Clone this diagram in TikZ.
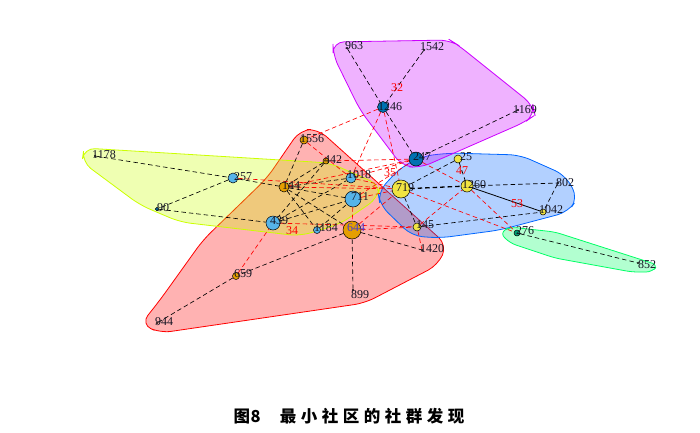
\documentclass[tikz,border=0pt]{standalone}
\usepackage{fontspec}
\setmainfont{Liberation Serif}
\newfontfamily\cjk{Noto Sans CJK SC}
\pgfdeclarelayer{hulls}
\pgfdeclarelayer{edges}
\pgfsetlayers{hulls,edges,main}
\definecolor{hred}{RGB}{255,0,0}
\definecolor{hyel}{RGB}{204,255,0}
\definecolor{hgrn}{RGB}{0,255,102}
\definecolor{hblu}{RGB}{0,102,255}
\definecolor{hpur}{RGB}{204,0,255}
\definecolor{vorange}{RGB}{230,159,0}
\definecolor{vsky}{RGB}{86,180,233}
\definecolor{vdblue}{RGB}{0,114,178}
\definecolor{vyel}{RGB}{240,228,66}
\definecolor{vgreen}{RGB}{0,158,115}
\definecolor{labc}{RGB}{20,20,35}
\definecolor{lab644}{RGB}{70,60,210}
\tikzset{
  hull/.style={fill=#1, fill opacity=0.3, draw=#1, draw opacity=1, line width=0.8pt, rounded corners=11pt},
  vtx/.style={circle, draw=black, line width=0.5pt, inner sep=0pt, minimum size=#1},
  dotv/.style={circle, fill=black, inner sep=0pt, minimum size=2.2pt},
  lab/.style={font=\fontsize{12}{12}\selectfont, text=labc, inner sep=0pt},
  elab/.style={font=\fontsize{12}{12}\selectfont, text=red, inner sep=0pt},
  be/.style={draw=black, dash pattern=on 4.5pt off 3pt, line width=0.65pt},
  re/.style={draw=red, dash pattern=on 4.5pt off 3pt, line width=0.65pt},
}
\begin{document}
\begin{tikzpicture}[x=1pt,y=-1pt]
\useasboundingbox (0,0) rectangle (700,432);

% vertices
\node[dotv] (n1178) at (95,156) {};
\node[vtx=10pt, fill=vsky] (n257) at (233,178) {};
\node[vtx=3.5pt, fill=vdblue] (n90) at (157,209) {};
\node[vtx=10pt, fill=vorange] (n144) at (284,187) {};
\node[vtx=14pt, fill=vsky] (n439) at (273,223) {};
\node[vtx=8pt, fill=vorange] (n1556) at (304,140) {};
\node[vtx=6pt, fill=vorange] (n442) at (326,161) {};
\node[vtx=10pt, fill=vsky] (n1018) at (351,178) {};
\node[vtx=16pt, fill=vsky] (n711) at (353,199) {};
\node[vtx=18pt, fill=vorange] (n644) at (352,230) {};
\node[vtx=7pt, fill=vsky] (n1184) at (317,230) {};
\node[vtx=7pt, fill=vorange] (n659) at (236,276) {};
\node[dotv] (n899) at (353,290) {};
\node[dotv] (n944) at (157,323) {};
\node[dotv] (n1420) at (422,250) {};
\node[vtx=18pt, fill=vyel] (n719) at (401,189) {};
\node[vtx=8pt, fill=vyel] (n145) at (417,227) {};
\node[vtx=14pt, fill=vdblue] (n247) at (416,159) {};
\node[vtx=11pt, fill=vdblue] (n1246) at (383,107) {};
\node[dotv] (n963) at (347,48) {};
\node[dotv] (n1542) at (424,50) {};
\node[dotv] (n1169) at (518,110) {};
\node[vtx=8pt, fill=vyel] (n25) at (458,159) {};
\node[vtx=12pt, fill=vyel] (n1260) at (467,186) {};
\node[dotv] (n802) at (558,183) {};
\node[vtx=6pt, fill=vyel] (n1042) at (543,212) {};
\node[vtx=6pt, fill=vgreen] (n276) at (517,233) {};
\node[dotv] (n852) at (638,263) {};

% hulls
\begin{pgfonlayer}{hulls}
\fill[white] (0,0) rectangle (700,432);
\draw[hull=hred] (300,130) -- (318,129) -- (447,245) -- (438,265) -- (365,303) -- (160,333) -- (141,324) -- (160,300) -- (203,240) -- (267,178) -- cycle;
\draw[hull=hyel] (84,148) -- (330,163) -- (380,185) -- (378,198) -- (340,224) -- (300,236) -- (180,222) -- (140,205) -- (82,162) -- cycle;
\draw[hull=hblu] (378,192) -- (400,168) -- (423,156) -- (450,153) -- (520,155) -- (565,175) -- (578,198) -- (568,212) -- (500,230) -- (440,238) -- (412,236) -- (380,205) -- cycle;
\draw[hull=hpur] (333,42) -- (450,40) -- (458,45) -- (533,105) -- (535,115) -- (525,122) -- (420,168) -- (402,166) -- (360,110) -- (333,55) -- cycle;
\draw[hull=hgrn, rounded corners=6pt] (500,233) -- (510,227) -- (555,232) -- (658,265) -- (652,272) -- (632,272) -- (555,258) -- (510,243) -- cycle;
\end{pgfonlayer}

% edges
\begin{pgfonlayer}{edges}
% black (within community)
\draw[be] (n1178) -- (n257);
\draw[be] (n257) -- (n90);
\draw[be] (n90) -- (n439);
\draw[be] (n257) -- (n144);
\draw[be] (n1556) -- (n144);
\draw[be] (n442) -- (n144);
\draw[be] (n442) -- (n439);
\draw[be] (n144) -- (n711);
\draw[be] (n144) -- (n644);
\draw[be] (n144) -- (n1184);
\draw[be] (n144) -- (n1018);
\draw[be] (n439) -- (n1018);
\draw[be] (n439) -- (n711);
\draw[be] (n1184) -- (n711);
\draw[be] (n644) -- (n659);
\draw[be] (n659) -- (n944);
\draw[be] (n644) -- (n899);
\draw[be] (n644) -- (n1420);
\draw[be] (n963) -- (n1246);
\draw[be] (n1246) -- (n247);
\draw[be] (n1542) -- (n1246);
\draw[be] (n1169) -- (n247);
\draw[be, line width=1.3pt] (n719) -- (n1260);
\draw[be] (n1260) -- (n802);
\draw[be] (n802) -- (n1042);
\draw[draw=black, line width=0.8pt] (n1260) -- (n1042);
\draw[be] (n719) -- (n145);
\draw[be] (n145) -- (n1042);
\draw[be] (n25) -- (n719);
\draw[be] (n25) -- (n1260);
\draw[be] (n276) -- (n852);
% red (between communities)
\draw[re] (n1246) -- (n1556);
\draw[re] (n1246) -- (n1018);
\draw[re] (n1246) -- (n719);
\draw[re] (n247) -- (n144);
\draw[re] (n257) -- (n719);
\draw[re] (n144) -- (n719);
\draw[re] (n1018) -- (n719);
\draw[re] (n711) -- (n719);
\draw[re] (n711) -- (n247);
\draw[re] (n1018) -- (n247);
\draw[re] (n442) -- (n247);
\draw[re] (n1556) -- (n1018);
\draw[re] (n644) -- (n145);
\draw[re] (n439) -- (n145);
\draw[re] (n711) -- (n644);
\draw[re] (n659) -- (n439);
\draw[re] (n644) -- (n719);
\draw[re] (n145) -- (n1420);
\draw[re] (n719) -- (n276);
\draw[re] (n1260) -- (n276);
\draw[re] (n247) -- (n1260);
\draw[re] (n145) -- (n1260);
\end{pgfonlayer}

% vertex labels
\node[lab] (l1178) at (104,155) {1178};
\node[lab] (l257) at (243,177) {257};
\node[lab] (l90) at (163,208) {90};
\node[lab] (l144) at (291,186) {144};
\node[lab] (l439) at (279,221) {439};
\node[lab] (l1556) at (312,139) {1556};
\node[lab] (l442) at (333,160) {442};
\node[lab] (l1018) at (359,175) {1018};
\node[lab] (l711) at (360,197) {711};
\node[lab, text=lab644] (l644) at (356,228) {644};
\node[lab] (l1184) at (326,228) {1184};
\node[lab] (l659) at (243,274) {659};
\node[lab] (l899) at (360,295) {899};
\node[lab] (l944) at (164,322) {944};
\node[lab] (l1420) at (432,249) {1420};
\node[lab] (l719) at (405,188) {719};
\node[lab] (l145) at (425,225) {145};
\node[lab] (l247) at (422,157) {247};
\node[lab] (l1246) at (390,107) {1246};
\node[lab] (l963) at (354,46) {963};
\node[lab] (l1542) at (432,47) {1542};
\node[lab] (l1169) at (525,110) {1169};
\node[lab] (l25) at (466,157) {25};
\node[lab] (l1260) at (474,185) {1260};
\node[lab] (l802) at (565,183) {802};
\node[lab] (l1042) at (551,210) {1042};
\node[lab] (l276) at (525,231) {276};
\node[lab] (l852) at (647,265) {852};

% edge labels
\node[elab] (e32) at (397,88) {32};
\node[elab] (e47) at (462,171) {47};
\node[elab] (e53) at (517,204) {53};
\node[elab] (e34) at (292,231) {34};
\node[elab] (e35) at (390,173) {35};

% caption
\node[font=\cjk\bfseries\fontsize{16.5}{16.5}\selectfont, inner sep=0pt] (cap) at (349,416)
  {图\kern0.5pt 8\hspace{19pt}最\kern4.5pt 小\kern4.5pt 社\kern4.5pt 区\kern4.5pt 的\kern4.5pt 社\kern4.5pt 群\kern4.5pt 发\kern4.5pt 现};
\end{tikzpicture}
\end{document}
